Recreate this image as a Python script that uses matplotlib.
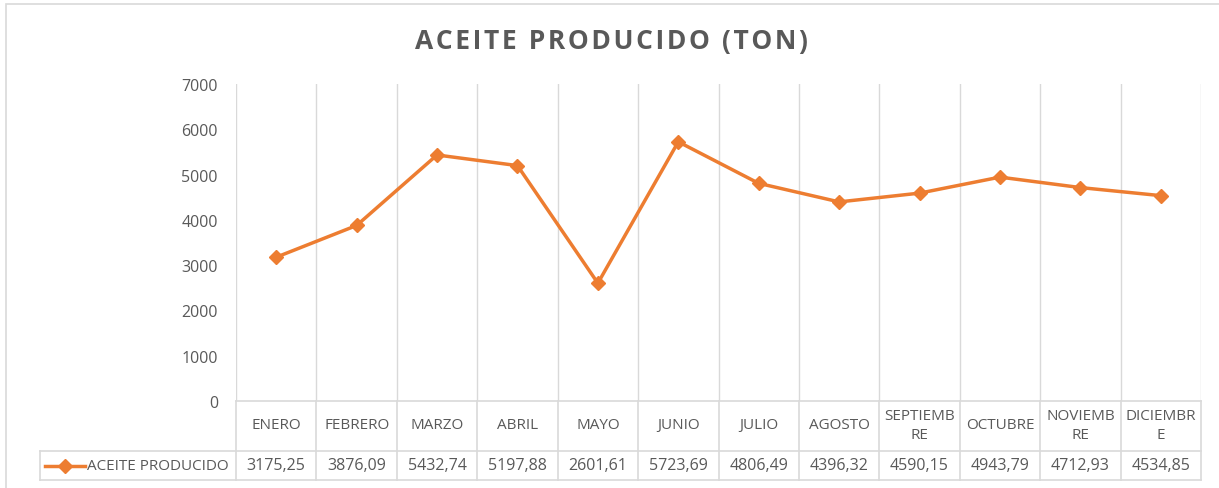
import matplotlib.pyplot as plt
from matplotlib.patches import Rectangle
import numpy as np

# datos del grafico
meses = ['ENERO', 'FEBRERO', 'MARZO', 'ABRIL', 'MAYO', 'JUNIO', 'JULIO',
         'AGOSTO', 'SEPTIEMB\nRE', 'OCTUBRE', 'NOVIEMB\nRE', 'DICIEMBR\nE']
aceite = [3175.25, 3876.09, 5432.74, 5197.88, 2601.61, 5723.69, 4806.49,
          4396.32, 4590.15, 4943.79, 4712.93, 4534.85]
serie = 'ACEITE PRODUCIDO'
titulo = 'ACEITE PRODUCIDO (TON)'
yticks = [0, 1000, 2000, 3000, 4000, 5000, 6000, 7000]

W, H = 1219, 489
naranja = '#ED7D31'
gris = '#595959'
linea = '#D9D9D9'
plt.rcParams['font.family'] = ['Open Sans', 'DejaVu Sans']

fig = plt.figure(figsize=(W / 100, H / 100), dpi=100)

# borde del grafico
fig.patches.append(Rectangle((6 / W, -0.1), 2, (H - 5) / H + 0.1,
                             transform=fig.transFigure, fill=False,
                             edgecolor=linea, lw=1.2))

# titulo con algo de espaciado entre letras
tt = fig.text(611 / W, 1 - 42 / H, titulo.replace('', '\u200a')[1:-1],
              ha='center', va='center', fontsize=19, fontweight='bold',
              color=gris)

# area de trazado
x0, x1, ytop, ybot = 236, 1201, 85, 402
ax = fig.add_axes([x0 / W, 1 - ybot / H, (x1 - x0) / W, (ybot - ytop) / H])
n = len(meses)
xs = np.arange(n) + 0.5
ax.plot(xs, aceite, color=naranja, lw=2.5, marker='D', markersize=7,
        markeredgecolor=naranja, zorder=3)
ax.set_xlim(0, n)
ax.set_ylim(0, 7000)
ax.set_yticks(yticks)
ax.set_yticklabels([str(v) for v in yticks], color=gris, fontsize=11.5)
ax.tick_params(axis='y', length=0, pad=13)
ax.set_xticks([])
for s in ax.spines.values():
    s.set_visible(False)
for i in range(n + 1):
    ax.axvline(i, color=linea, lw=1, zorder=1)

# tabla de datos
tb_top, tb_mid, tb_bot, tb_left = 402, 452, 481, 40
colw = (x1 - x0) / n
tx = fig.add_axes([tb_left / W, 1 - tb_bot / H, (x1 - tb_left) / W,
                   (tb_bot - tb_top) / H])
tx.set_xlim(-(x0 - tb_left) / colw, n)
tx.set_ylim(0, tb_bot - tb_top)
tx.axis('off')
split = tb_bot - tb_mid
for i in range(n + 1):
    tx.plot([i, i], [0, tb_bot - tb_top], color=linea, lw=1.2, clip_on=False)
tx.plot([0, n], [tb_bot - tb_top] * 2, color=linea, lw=1.2, clip_on=False)
xl = -(x0 - tb_left) / colw
tx.plot([xl, n], [split, split], color=linea, lw=1.2, clip_on=False)
tx.plot([xl, n], [0, 0], color=linea, lw=1.2, clip_on=False)
tx.plot([xl, xl], [0, split], color=linea, lw=1.2, clip_on=False)

ycat = split + (tb_bot - tb_top - split) / 2 + 1
for i, m in enumerate(meses):
    tx.text(i + 0.5, ycat, m, ha='center', va='center', fontsize=11,
            color=gris, linespacing=1.35)
    tx.text(i + 0.5, split / 2, f'{aceite[i]:.2f}'.replace('.', ','),
            ha='center', va='center', fontsize=11.5, color=gris)

# clave de leyenda
lx0 = xl + 5 / colw
tx.plot([lx0, lx0 + 40 / colw], [split / 2] * 2, color=naranja, lw=2.5,
        clip_on=False)
tx.plot([lx0 + 20 / colw], [split / 2], marker='D', markersize=7,
        color=naranja, clip_on=False)
tx.text(lx0 + 42 / colw, split / 2, serie, ha='left', va='center',
        fontsize=11, color=gris)

fig.savefig('out.png', dpi=100)
